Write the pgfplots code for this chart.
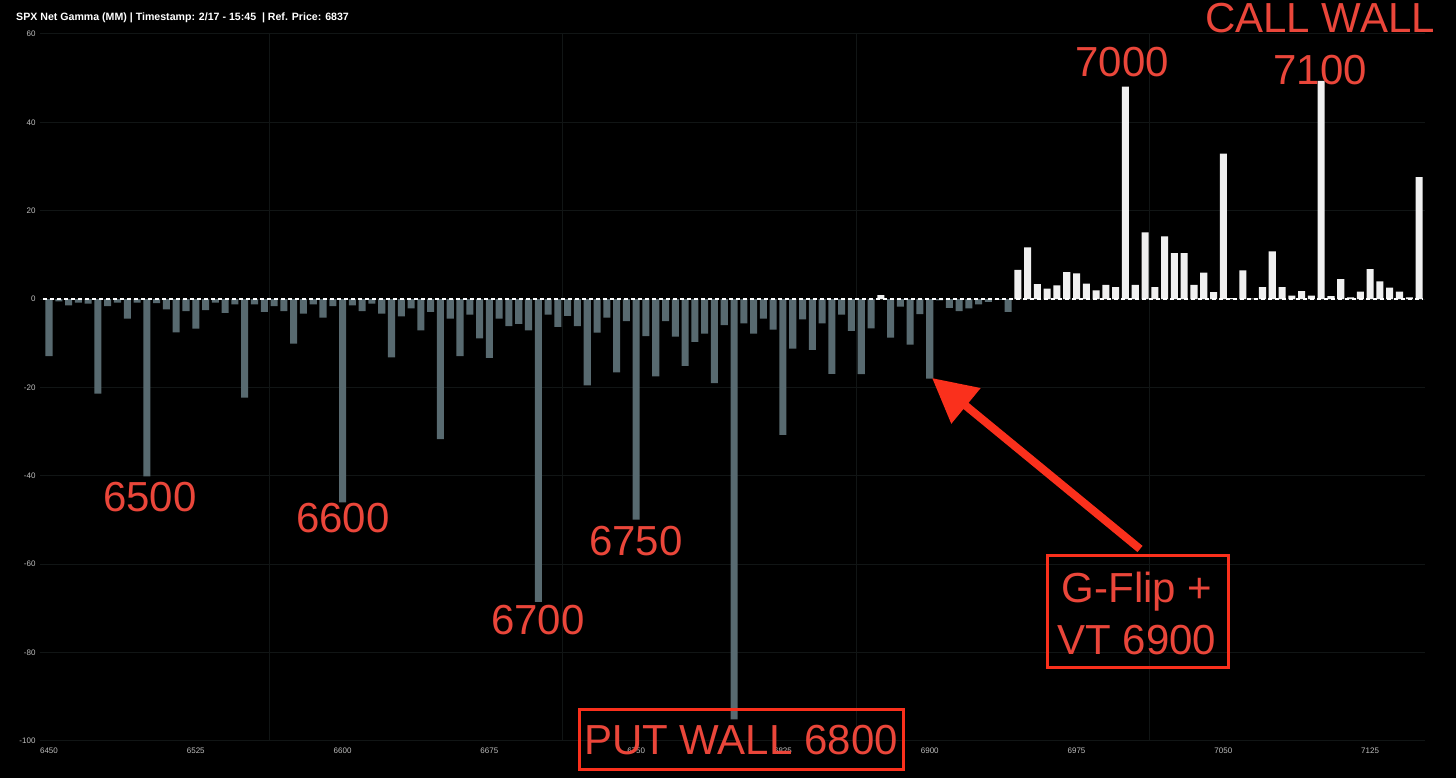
\documentclass[border=0pt]{standalone}
\usepackage{fontspec}
\setmainfont{Liberation Sans}
\usepackage{pgfplots}
\pgfplotsset{compat=1.18}
\usepackage{pgfplotstable}
\usetikzlibrary{arrows.meta}

\definecolor{negbar}{RGB}{88,106,112}
\definecolor{posbar}{RGB}{240,240,240}
\definecolor{gridc}{RGB}{17,21,21}
\definecolor{annot}{RGB}{234,70,58}
\definecolor{arrowc}{RGB}{250,48,28}
\definecolor{ticklab}{RGB}{190,190,190}

\pgfplotstableread{
x y
6450 -12.9
6455 -0.5
6460 -1.4
6465 -0.8
6470 -1.0
6475 -21.4
6480 -1.6
6485 -0.8
6490 -4.4
6495 -0.8
6500 -40.1
6505 -0.9
6510 -2.3
6515 -7.5
6520 -2.7
6525 -6.7
6530 -2.5
6535 -0.8
6540 -3.1
6545 -1.2
6550 -22.3
6555 -1.2
6560 -2.9
6565 -1.6
6570 -2.7
6575 -10.1
6580 -3.3
6585 -1.2
6590 -4.2
6595 -1.6
6600 -46.0
6605 -1.4
6610 -2.7
6615 -1.0
6620 -3.3
6625 -13.2
6630 -3.9
6635 -2.1
6640 -7.1
6645 -2.9
6650 -31.7
6655 -4.4
6660 -12.9
6665 -3.5
6670 -8.9
6675 -13.3
6680 -4.4
6685 -6.1
6690 -5.6
6695 -7.1
6700 -68.5
6705 -3.5
6710 -6.3
6715 -3.8
6720 -6.1
6725 -19.5
6730 -7.6
6735 -4.2
6740 -16.6
6745 -5.0
6750 -49.9
6755 -8.4
6760 -17.5
6765 -5.0
6770 -8.5
6775 -15.1
6780 -9.7
6785 -7.8
6790 -19.0
6795 -5.9
6800 -95.1
6805 -5.5
6810 -7.8
6815 -4.4
6820 -6.9
6825 -30.7
6830 -11.2
6835 -4.6
6840 -11.5
6845 -5.5
6850 -16.9
6855 -3.5
6860 -7.2
6865 -17.0
6870 -6.6
6880 -8.7
6885 -1.7
6890 -10.3
6895 -3.4
6900 -18.0
6905 -0.3
6910 -2.0
6915 -2.7
6920 -2.1
6925 -1.2
6930 -0.6
6935 -0.2
6940 -2.9
}\negdata

\pgfplotstableread{
x y
6875 0.9
6945 6.6
6950 11.7
6955 3.4
6960 2.4
6965 3.1
6970 6.1
6975 5.8
6980 3.5
6985 2.0
6990 3.2
6995 2.7
7000 48.1
7005 3.2
7010 15.1
7015 2.7
7020 14.2
7025 10.4
7030 10.4
7035 3.2
7040 6.0
7045 1.6
7050 32.9
7055 0.2
7060 6.5
7065 0.1
7070 2.7
7075 10.8
7080 2.7
7085 0.8
7090 1.8
7095 0.8
7100 49.4
7105 0.7
7110 4.5
7115 0.4
7120 1.7
7125 6.8
7130 4.0
7135 2.6
7140 1.7
7145 0.4
7150 27.6
}\posdata

\begin{document}
\begin{tikzpicture}[x=1pt,y=1pt]
\fill[black] (0,0) rectangle (1456,778);
\begin{axis}[
  at={(40pt,37pt)}, anchor=south west,
  scale only axis, width=1385pt, height=707pt,
  xmin=6445.4, xmax=7153, ymin=-100, ymax=60,
  axis line style={draw=none},
  tick style={draw=none},
  xtick={6450,6525,...,7125},
  ytick={-100,-80,...,60},
  /pgf/number format/.cd, 1000 sep={}, assume math mode=true, /pgfplots/.cd,
  ticklabel style={font=\fontsize{8}{8}\selectfont, text=ticklab},
  xticklabel style={yshift=-3pt},
  yticklabel style={xshift=-1pt},
  ymajorgrids, xmajorgrids=false,
  major grid style={draw=gridc, line width=1pt},
  extra x ticks={6562.5,6712.5,6862.5,7012.5},
  extra x tick labels={},
  extra x tick style={grid=major, xmajorgrids=true},
  clip=false,
]
\addplot[ybar, bar width=3.6, bar shift=0pt, fill=negbar, draw=none] table[x=x,y=y] {\negdata};
\addplot[ybar, bar width=3.6, bar shift=0pt, fill=posbar, draw=none] table[x=x,y=y] {\posdata};
\draw[white, line width=1.3pt, dash pattern=on 4pt off 3pt] (axis cs:6447,0) -- (axis cs:7152,0);
\end{axis}
% title
\node[anchor=base west, text=white, font=\fontsize{10.6}{12}\selectfont\bfseries, inner sep=0pt] at (16,757) {SPX Net Gamma (MM) | Timestamp: 2/17 - 15:45 \ | Ref. Price: 6837};
% annotations
\begin{scope}[every node/.style={text=annot, font=\fontsize{42}{46}\selectfont, inner sep=0pt}]
\node at (150,281) {6500};
\node at (343,260) {6600};
\node at (636,237) {6750};
\node at (538,158) {6700};
\node at (1122,716) {7000};
\node at (1320,760) {CALL WALL};
\node at (1320,708) {7100};
\node at (741,38) {PUT WALL 6800};
\node at (1137,186) {G-Flip +};
\node at (1137,138) {VT 6900};
\end{scope}
\draw[arrowc, line width=3pt] (579,68) rectangle (903,8);
\draw[arrowc, line width=3pt] (1047,222) rectangle (1228,110);
\draw[arrowc, line width=8pt, -{Triangle[length=44pt,width=44pt]}] (1140,229) -- (932,400);
\end{tikzpicture}
\end{document}
